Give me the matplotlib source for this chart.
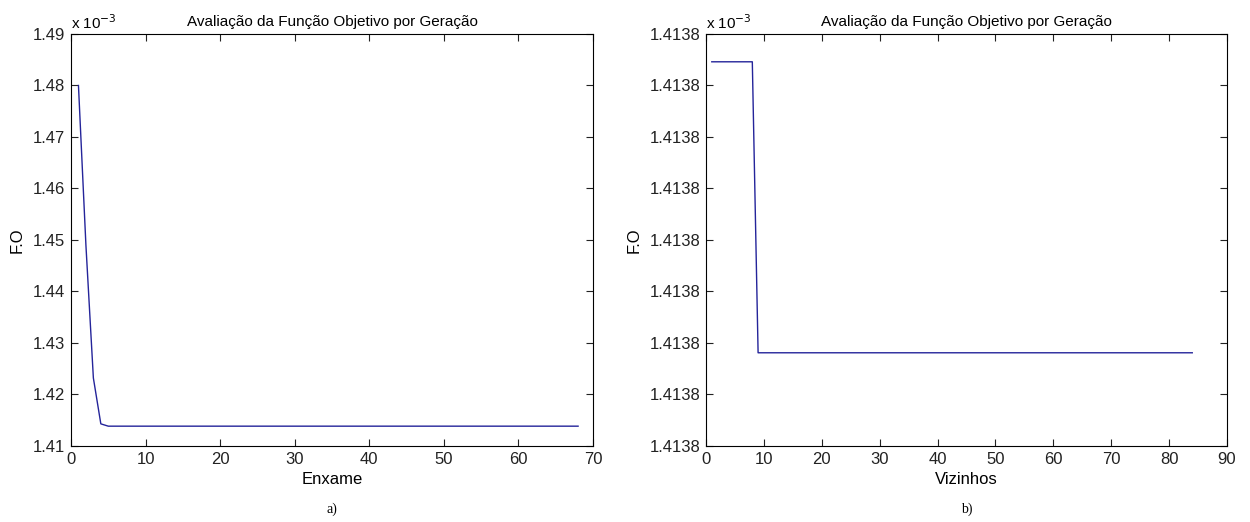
import matplotlib.pyplot as plt

plt.rcParams['font.family'] = ['Liberation Sans', 'DejaVu Sans']

# dados (valores em x 10^-3)
enxame = [1, 2, 3, 4, 5, 68]
fo_enxame = [1.4800, 1.4490, 1.4232, 1.4143, 1.41385, 1.41385]

vizinhos = [1, 8, 9, 84]
fo_vizinhos = [1.4138746, 1.4138746, 1.4138181, 1.4138181]

yticks_a = [1.41, 1.42, 1.43, 1.44, 1.45, 1.46, 1.47, 1.48, 1.49]
yticks_b = [1.41380, 1.41381, 1.41382, 1.41383, 1.41384, 1.41385, 1.41386, 1.41387, 1.41388]
ylabels_b = ['1.4138'] * 9

titulo = 'Avaliação da Função Objetivo por Geração'
cor = '#24249a'

fig = plt.figure(figsize=(12.5, 5.22), dpi=100)
ax1 = fig.add_axes([0.0568, 0.1456, 0.4176, 0.7893])
ax2 = fig.add_axes([0.5648, 0.1456, 0.4168, 0.7893])


def estilo(ax):
    ax.tick_params(direction='in', top=True, right=True, length=5,
                   labelsize=12, width=0.8, pad=4, colors='#222222')
    for s in ax.spines.values():
        s.set_linewidth(0.8)
    ax.set_ylabel('F.O', fontsize=12, labelpad=6)
    ax.set_title(titulo, fontsize=11, pad=6)
    ax.text(0.0, 1.006, r'x 10$^{-3}$', transform=ax.transAxes,
            fontsize=11, ha='left', va='bottom')


ax1.plot(enxame, fo_enxame, color=cor, lw=1)
ax1.set_xlim(0, 70)
ax1.set_ylim(1.41, 1.49)
ax1.set_yticks(yticks_a)
ax1.set_yticklabels(['%.2f' % v for v in yticks_a])
ax1.set_xticks(range(0, 71, 10))
ax1.set_xlabel('Enxame', fontsize=12, labelpad=4)
estilo(ax1)

ax2.plot(vizinhos, fo_vizinhos, color=cor, lw=1)
ax2.set_xlim(0, 90)
ax2.set_ylim(1.41380, 1.41388)
ax2.set_yticks(yticks_b)
ax2.set_yticklabels(ylabels_b)
ax2.set_xticks(range(0, 91, 10))
ax2.set_xlabel('Vizinhos', fontsize=12, labelpad=4)
estilo(ax2)

fig.text(0.2656, 0.025, 'a)', fontsize=10, family='Liberation Serif',
         ha='center', va='center')
fig.text(0.7732, 0.025, 'b)', fontsize=10, family='Liberation Serif',
         ha='center', va='center')

fig.savefig('out.png', dpi=100)
